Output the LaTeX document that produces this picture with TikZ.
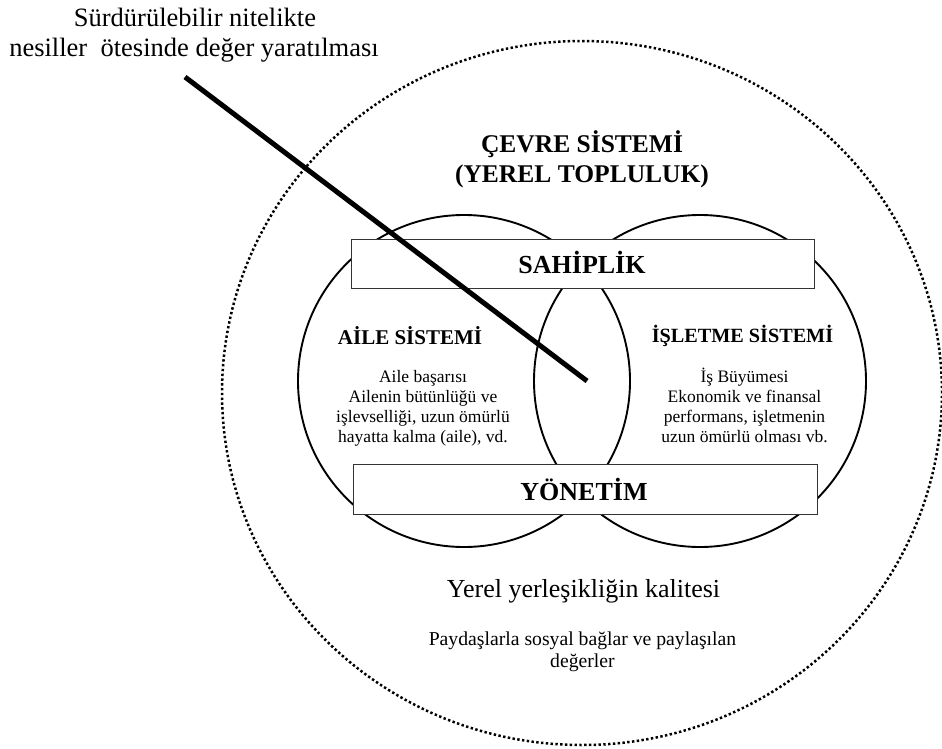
\documentclass[tikz,border=0pt]{standalone}
\usepackage{fontspec}
\setmainfont{LiberationSerif}[Extension=.ttf,UprightFont=*-Regular,BoldFont=*-Bold,ItalicFont=*-Italic,BoldItalicFont=*-BoldItalic]
\begin{document}
\begin{tikzpicture}[x=1pt,y=-1pt,
  every node/.style={inner sep=0pt,outer sep=0pt},
  txt/.style={anchor=base,font=\fontsize{#1}{#1}\selectfont},
  ttl/.style={anchor=base,font=\fontsize{#1}{#1}\selectfont\bfseries},
  venn/.style={circle,draw,line width=1.9pt,minimum size=332pt},
  bandbox/.style={rectangle,draw=black!80,line width=1pt,fill=white},
  envline/.style={line width=2.5pt,dash pattern=on 2.4pt off 2.4pt},
  spoke/.style={line width=5pt}
]
\useasboundingbox (0,0) rectangle (942,749);

% environment system (dotted boundary)
\draw[envline] (582,393) ellipse [x radius=360pt, y radius=352pt];

% family and business systems
\node[venn] (aile) at (464,381) {};
\node[venn] (isletme) at (700,381) {};

% ownership and management bands
\node[bandbox,minimum width=463pt,minimum height=49pt] (sahipbox) at (582.5,263.5) {};
\node[bandbox,minimum width=464pt,minimum height=50pt] (yonbox) at (585,489) {};

% headline
\node[txt=26.5] (top1) at (195,27) {Sürdürülebilir nitelikte};
\node[txt=26.5] (top2) at (194,57) {nesiller\ \ ötesinde değer yaratılması};

% environment title
\node[ttl=25.5] (cevre1) at (582,153) {ÇEVRE SİSTEMİ};
\node[ttl=25.5] (cevre2) at (582,182) {(YEREL TOPLULUK)};

% band labels
\node[ttl=26] (sahip) at (582,273) {SAHİPLİK};
\node[ttl=26] (yonetim) at (584,500) {YÖNETİM};

% family system
\node[ttl=21] (aileT) at (410,344) {AİLE SİSTEMİ};
\node[txt=17.5] (aile1) at (423,382) {Aile başarısı};
\node[txt=17.5] (aile2) at (423,402) {Ailenin bütünlüğü ve};
\node[txt=17.5] (aile3) at (423,422) {işlevselliği, uzun ömürlü};
\node[txt=17.5] (aile4) at (423,442) {hayatta kalma (aile), vd.};

% business system
\node[ttl=20.2] (isT) at (742.5,342) {İŞLETME SİSTEMİ};
\node[txt=17.5] (is1) at (744.5,382) {İş Büyümesi};
\node[txt=17.5] (is2) at (744.5,402) {Ekonomik ve finansal};
\node[txt=17.5] (is3) at (744.5,422) {performans, işletmenin};
\node[txt=17.5] (is4) at (744.5,442) {uzun ömürlü olması vb.};

% local community
\node[txt=26] (yerel) at (583.5,597) {Yerel yerleşikliğin kalitesi};
\node[txt=19.7] (payd1) at (582.5,645) {Paydaşlarla sosyal bağlar ve paylaşılan};
\node[txt=19.7] (payd2) at (582.5,667) {değerler};

% pointer from the headline into the overlap
\coordinate (spokeA) at (185,77);
\coordinate (spokeB) at (587,381);
\draw[spoke] (spokeA) -- (spokeB);
\end{tikzpicture}
\end{document}
